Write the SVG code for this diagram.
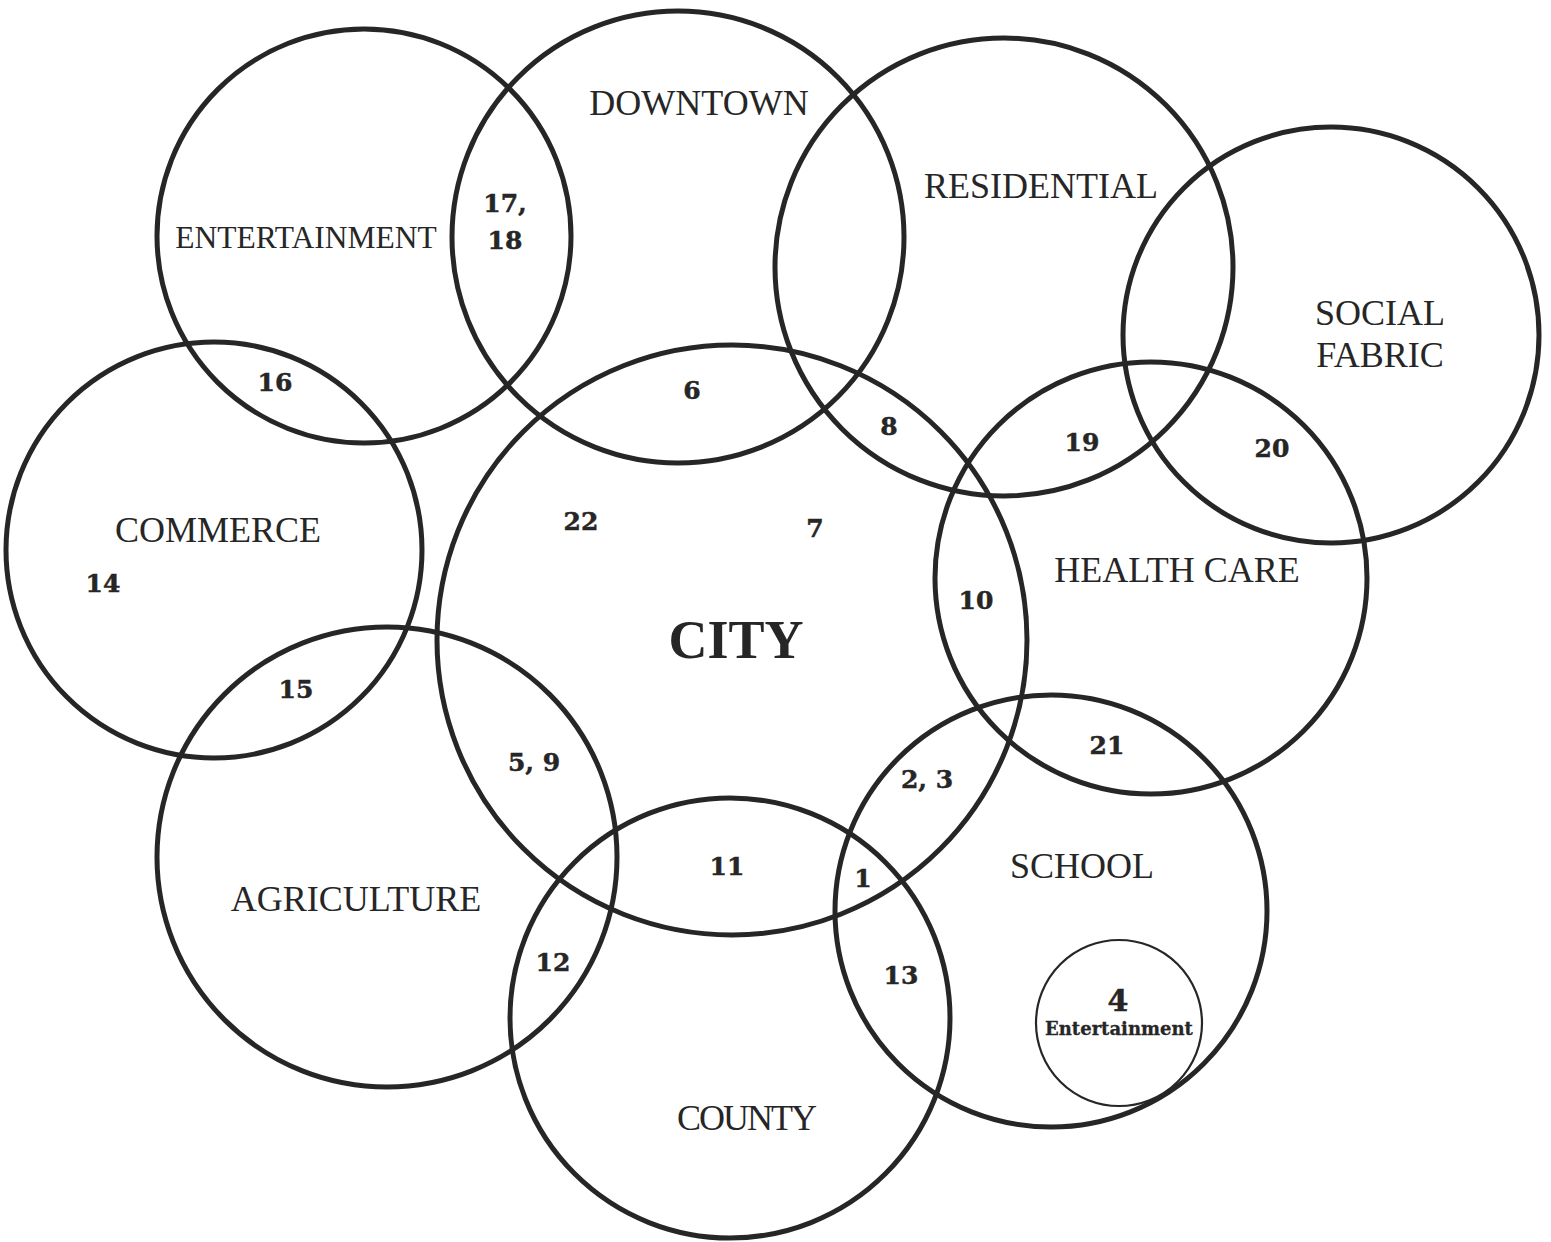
<svg xmlns="http://www.w3.org/2000/svg" width="1551" height="1242" viewBox="0 0 1551 1242">
  <style>
    .ring { fill: none; stroke: #262626; stroke-width: 5; }
    .ring-sm { fill: none; stroke: #262626; stroke-width: 2.2; }
    .label { font-family: "Liberation Serif", "Times New Roman", serif; font-size: 36px; fill: #262626; text-anchor: middle; }
    .title { font-family: "Liberation Serif", "Times New Roman", serif; font-size: 54px; font-weight: bold; fill: #262626; text-anchor: middle; }
    .num { font-family: "DejaVu Serif", "Liberation Serif", serif; font-size: 25px; font-weight: bold; fill: #262626; stroke: #262626; stroke-width: 0.5; text-anchor: middle; }
    .num-sm { font-family: "DejaVu Serif", "Liberation Serif", serif; font-size: 18px; font-weight: bold; fill: #262626; stroke: #262626; stroke-width: 0.3; text-anchor: middle; }
  </style>
  <rect width="1551" height="1242" fill="#ffffff"/>

  <!-- category sets -->
  <g id="entertainment">
    <circle class="ring" cx="364" cy="236" r="207"/>
    <text class="label" x="306" y="248" style="font-size:31.5px">ENTERTAINMENT</text>
  </g>
  <g id="downtown">
    <circle class="ring" cx="678" cy="237" r="226"/>
    <text class="label" x="699" y="115">DOWNTOWN</text>
  </g>
  <g id="residential">
    <circle class="ring" cx="1004" cy="267" r="229"/>
    <text class="label" x="1041" y="198">RESIDENTIAL</text>
  </g>
  <g id="social-fabric">
    <circle class="ring" cx="1331" cy="335" r="208"/>
    <text class="label" x="1380" y="325">SOCIAL</text>
    <text class="label" x="1380" y="367">FABRIC</text>
  </g>
  <g id="commerce">
    <circle class="ring" cx="214" cy="550" r="208"/>
    <text class="label" x="218" y="542">COMMERCE</text>
  </g>
  <g id="city">
    <circle class="ring" cx="732" cy="640" r="295"/>
    <text class="title" x="736" y="658">CITY</text>
  </g>
  <g id="health-care">
    <circle class="ring" cx="1151" cy="578" r="216"/>
    <text class="label" x="1177" y="582">HEALTH CARE</text>
  </g>
  <g id="agriculture">
    <circle class="ring" cx="387" cy="857" r="230"/>
    <text class="label" x="356" y="911">AGRICULTURE</text>
  </g>
  <g id="county">
    <circle class="ring" cx="730" cy="1018" r="220"/>
    <text class="label" x="747" y="1130" textLength="140">COUNTY</text>
  </g>
  <g id="school">
    <circle class="ring" cx="1051" cy="911" r="216"/>
    <text class="label" x="1082" y="878">SCHOOL</text>
  </g>
  <g id="school-entertainment">
    <circle class="ring-sm" cx="1119" cy="1023" r="83"/>
    <text class="num" x="1118" y="1011" style="font-size:30px">4</text>
    <text class="num-sm" x="1119" y="1035">Entertainment</text>
  </g>

  <!-- item numbers placed in their regions -->
  <g id="items">
    <text class="num" x="505" y="212">17,</text>
    <text class="num" x="505" y="249">18</text>
    <text class="num" x="275" y="391">16</text>
    <text class="num" x="692" y="399">6</text>
    <text class="num" x="889" y="435">8</text>
    <text class="num" x="1082" y="451">19</text>
    <text class="num" x="1272" y="457">20</text>
    <text class="num" x="581" y="530">22</text>
    <text class="num" x="815" y="537">7</text>
    <text class="num" x="103" y="592">14</text>
    <text class="num" x="976" y="609">10</text>
    <text class="num" x="296" y="698">15</text>
    <text class="num" x="1107" y="754">21</text>
    <text class="num" x="534" y="771">5, 9</text>
    <text class="num" x="927" y="788">2, 3</text>
    <text class="num" x="727" y="875">11</text>
    <text class="num" x="863" y="887">1</text>
    <text class="num" x="553" y="971">12</text>
    <text class="num" x="901" y="984">13</text>
  </g>
</svg>
